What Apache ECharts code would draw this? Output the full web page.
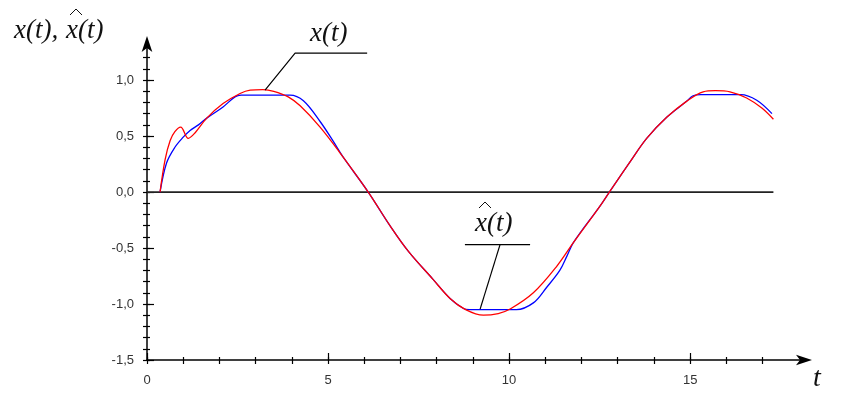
<!DOCTYPE html>
<html><head><meta charset="utf-8">
<script src="https://cdn.jsdelivr.net/npm/echarts@6/dist/echarts.min.js"></script>
<style>html,body{margin:0;padding:0;background:#fff}#c{width:843px;height:401px}</style>
</head><body><div id="c"></div>
<script>
// x(t) — red curve
const xTrue = [[0.36,0],[0.5,0.29],[0.64,0.46],[0.77,0.54],[0.93,0.58],[1.14,0.48],[1.33,0.53],[1.65,0.66],[2.1,0.79],[2.57,0.88],[2.85,0.91],[3.2,0.915],[3.5,0.9],[3.9,0.85],[4.23,0.77],[4.78,0.58],[5.33,0.35],[6.11,0],[6.71,-0.3],[7.22,-0.53],[7.9,-0.78],[8.37,-0.95],[8.8,-1.05],[9.29,-1.1],[9.7,-1.085],[10.03,-1.045],[10.67,-0.9],[11.3,-0.67],[11.78,-0.45],[12.5,-0.13],[12.77,0],[13.34,0.27],[13.8,0.48],[14.36,0.67],[14.9,0.81],[15.36,0.895],[15.7,0.905],[16.1,0.895],[16.56,0.84],[16.98,0.75],[17.3,0.65]];
// x^(t) — blue curve
const xHat = [[0.36,0],[0.54,0.26],[0.77,0.4],[1.0,0.49],[1.19,0.55],[1.42,0.6],[1.65,0.66],[2.1,0.76],[2.43,0.85],[2.6,0.866],[3.95,0.866],[4.32,0.815],[4.78,0.63],[5.15,0.45],[5.4,0.32],[6.11,0],[6.71,-0.3],[7.22,-0.53],[7.9,-0.78],[8.37,-0.95],[8.74,-1.04],[8.9,-1.05],[10.2,-1.05],[10.67,-0.99],[11.04,-0.85],[11.4,-0.7],[11.6,-0.57],[11.78,-0.45],[12.5,-0.13],[12.77,0],[13.34,0.27],[13.8,0.48],[14.36,0.67],[14.9,0.81],[15.08,0.86],[15.3,0.87],[16.4,0.87],[16.84,0.82],[17.26,0.7]];
// annotation leader lines (data units)
const xTrueLeader = [[3.26,0.91],[4.09,1.24],[6.08,1.24]];
const xHatUnderline = [[8.78,-0.47],[10.58,-0.47]];
const xHatLeader = [[9.75,-0.47],[9.2,-1.045]];
const zeroLine = [[0,0],[17.3,0]];
// ticks and labels
const xMajorTicks = [0,5,10,15];
const xMinorTicks = [0,1,2,3,4,5,6,7,8,9,10,11,12,13,14,15,16,17];
const xTickLabels = ['0','5','10','15'];
const yMajorTicks = [-1.5,-1,-0.5,0,0.5,1];
const yMinorTicks = [-1.5,-1.4,-1.3,-1.2,-1.1,-1,-0.9,-0.8,-0.7,-0.6,-0.5,-0.4,-0.3,-0.2,-0.1,0,0.1,0.2,0.3,0.4,0.5,0.6,0.7,0.8,0.9,1,1.1,1.2];
const yTickLabels = ['-1,5','-1,0','-0,5','0,0','0,5','1,0'];

const X_MIN = 0, X_MAX = 18.2, Y_MIN = -1.5, Y_MAX = 1.34;
const chart = echarts.init(document.getElementById('c'));
const tickLine = {color:'#000', width:1.2};
function xAx(extra){ return Object.assign({type:'value', position:'bottom', min:X_MIN, max:X_MAX, splitLine:{show:false}, axisLine:{show:false, onZero:false}, axisLabel:{show:false}, axisTick:{show:false}}, extra); }
function yAx(extra){ return Object.assign({type:'value', position:'left', min:Y_MIN, max:Y_MAX, splitLine:{show:false}, axisLine:{show:false, onZero:false}, axisLabel:{show:false}, axisTick:{show:false}}, extra); }
const lbl = {fontFamily:'Liberation Sans', fontSize:13, color:'#333'};
const serif = 'italic 27px "Liberation Serif"';
chart.setOption({
  animation:false,
  grid:{left:147, top:42, width:659, height:318, containLabel:false},
  xAxis:[
    xAx({axisLine:{show:true, onZero:false, symbol:['none','arrow'], symbolSize:[8,16], symbolOffset:[0,6], lineStyle:{color:'#000', width:1.5}},
         axisTick:{show:true, customValues:xMinorTicks, length:4, inside:false, lineStyle:tickLine},
         axisLabel:Object.assign({show:true, customValues:xMajorTicks, margin:14, formatter:v=>xTickLabels[xMajorTicks.indexOf(v)]}, lbl)}),
    xAx({axisTick:{show:true, customValues:xMinorTicks, length:3, inside:true, lineStyle:tickLine}}),
    xAx({axisTick:{show:true, customValues:xMajorTicks, length:7, inside:true, lineStyle:tickLine}})
  ],
  yAxis:[
    yAx({axisLine:{show:true, onZero:false, symbol:['none','arrow'], symbolSize:[8,16], symbolOffset:[0,6], lineStyle:{color:'#000', width:1.5}},
         axisTick:{show:true, customValues:yMinorTicks, length:4, inside:false, lineStyle:tickLine},
         axisLabel:Object.assign({show:true, customValues:yMajorTicks, margin:13, formatter:v=>yTickLabels[yMajorTicks.indexOf(v)]}, lbl)}),
    yAx({axisTick:{show:true, customValues:yMinorTicks, length:3, inside:true, lineStyle:tickLine}}),
    yAx({axisTick:{show:true, customValues:yMajorTicks, length:7, inside:true, lineStyle:tickLine}})
  ],
  series:[
    {type:'line', data:zeroLine, showSymbol:false, lineStyle:{color:'#222', width:1.8}, silent:true, z:1},
    {type:'line', name:'x̂(t)', data:xHat, smooth:0.35, showSymbol:false, lineStyle:{color:'#0000ff', width:1.3}, z:2},
    {type:'line', name:'x(t)', data:xTrue, smooth:0.35, showSymbol:false, lineStyle:{color:'#ff0000', width:1.3}, z:3},
    {type:'line', data:xTrueLeader, showSymbol:false, lineStyle:{color:'#000', width:1.2}, silent:true, z:4},
    {type:'line', data:xHatUnderline, showSymbol:false, lineStyle:{color:'#000', width:1.2}, silent:true, z:4},
    {type:'line', data:xHatLeader, showSymbol:false, lineStyle:{color:'#000', width:1.2}, silent:true, z:4}
  ],
  graphic:[
    {type:'text', left:14, top:17, style:{text:'x(t),', font:serif, fill:'#111'}},
    {type:'text', left:66, top:17, style:{text:'x(t)', font:serif, fill:'#111'}},
    {type:'polyline', shape:{points:[[70,15],[76,9],[82,15]]}, style:{stroke:'#111', lineWidth:1, fill:null}},
    {type:'text', left:310, top:20, style:{text:'x(t)', font:serif, fill:'#111'}},
    {type:'text', left:475, top:210, style:{text:'x(t)', font:serif, fill:'#111'}},
    {type:'polyline', shape:{points:[[479,208],[485,202],[491,208]]}, style:{stroke:'#111', lineWidth:1, fill:null}},
    {type:'text', left:813, top:365, style:{text:'t', font:'italic 28px "Liberation Serif"', fill:'#111'}}
  ]
});
</script></body></html>
